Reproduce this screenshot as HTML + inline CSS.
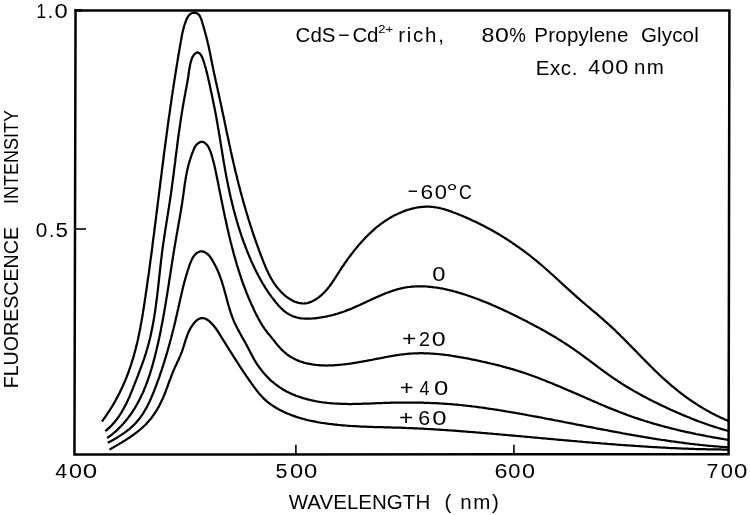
<!DOCTYPE html>
<html><head><meta charset="utf-8"><style>
html,body{margin:0;padding:0;background:#fff;}
svg{display:block;}
text{font-family:"Liberation Sans",Arial,sans-serif;fill:#000;}
</style></head><body>
<svg width="750" height="515" viewBox="0 0 750 515">
<rect width="750" height="515" fill="#fff"/>
<g fill="none" stroke="#000" stroke-linejoin="miter" stroke-linecap="square">
<path d="M75.55,10.6 L729.4,10.6 L728.6,454.2 L74.45,454.6 Z" stroke-width="2.5"/>
</g>
<g fill="none" stroke="#000" stroke-linecap="butt">
<path d="M75,229 L86,229" stroke-width="1.6"/>
<path d="M74.5,10.3 L82,10.3" stroke-width="2.4"/>
<path d="M295.9,454 L295.9,444.8" stroke-width="1.6"/>
<path d="M513.9,454 L513.9,444.8" stroke-width="1.6"/>
</g>
<g fill="none" stroke="#000" stroke-width="2.25" stroke-linejoin="round" stroke-linecap="butt">
<path d="M101.9,421.5 L102.8,420.3 L103.6,419.1 L104.5,417.9 L105.4,416.7 L106.3,415.4 L107.1,414.2 L107.9,413.0 L108.8,411.7 L109.6,410.5 L110.4,409.2 L111.2,407.9 L112.0,406.7 L112.7,405.4 L113.5,404.1 L114.2,402.8 L115.0,401.5 L115.7,400.2 L116.4,398.9 L117.1,397.5 L117.8,396.2 L118.5,394.9 L119.2,393.5 L119.9,392.2 L120.5,390.8 L121.2,389.5 L121.8,388.1 L122.5,386.8 L123.1,385.4 L123.7,384.0 L124.3,382.6 L124.9,381.3 L125.5,379.9 L126.0,378.5 L126.6,377.1 L127.1,375.7 L127.7,374.3 L128.2,372.9 L128.7,371.5 L129.2,370.0 L129.7,368.6 L130.2,367.2 L130.7,365.8 L131.2,364.3 L131.6,362.9 L132.1,361.5 L132.5,360.0 L133.0,358.6 L133.4,357.2 L133.8,355.7 L134.2,354.3 L134.6,352.8 L135.0,351.4 L135.4,349.9 L135.8,348.5 L136.1,347.0 L136.5,345.6 L136.8,344.1 L137.2,342.7 L137.5,341.2 L137.9,339.7 L138.2,338.3 L138.5,336.8 L138.8,335.3 L139.1,333.9 L139.4,332.4 L139.7,330.9 L140.0,329.5 L140.3,328.0 L140.5,326.5 L140.8,325.0 L141.1,323.6 L141.4,322.1 L141.6,320.6 L141.9,319.1 L142.1,317.6 L142.4,316.2 L142.6,314.7 L142.9,313.2 L143.1,311.7 L143.3,310.2 L143.6,308.8 L143.8,307.3 L144.0,305.8 L144.3,304.3 L144.5,302.8 L144.7,301.3 L144.9,299.8 L145.1,298.4 L145.4,296.9 L145.6,295.4 L145.8,293.9 L146.0,292.4 L146.2,290.9 L146.5,289.5 L146.7,288.0 L146.9,286.5 L147.1,285.0 L147.3,283.5 L147.5,282.0 L147.7,280.5 L147.9,279.1 L148.1,277.6 L148.4,276.1 L148.6,274.6 L148.8,273.1 L149.0,271.6 L149.2,270.1 L149.4,268.7 L149.6,267.2 L149.8,265.7 L150.0,264.2 L150.2,262.7 L150.4,261.2 L150.6,259.7 L150.8,258.2 L151.0,256.8 L151.2,255.3 L151.4,253.8 L151.6,252.3 L151.8,250.8 L152.0,249.3 L152.2,247.8 L152.4,246.4 L152.5,244.9 L152.7,243.4 L152.9,241.9 L153.1,240.4 L153.3,238.9 L153.5,237.4 L153.7,235.9 L153.9,234.5 L154.1,233.0 L154.3,231.5 L154.5,230.0 L154.6,228.5 L154.8,227.0 L155.0,225.5 L155.2,224.0 L155.4,222.6 L155.6,221.1 L155.8,219.6 L156.0,218.1 L156.1,216.6 L156.3,215.1 L156.5,213.6 L156.7,212.1 L156.9,210.6 L157.1,209.2 L157.3,207.7 L157.5,206.2 L157.6,204.7 L157.8,203.2 L158.0,201.7 L158.2,200.2 L158.4,198.7 L158.6,197.2 L158.8,195.8 L158.9,194.3 L159.1,192.8 L159.3,191.3 L159.5,189.8 L159.7,188.3 L159.9,186.8 L160.1,185.3 L160.2,183.8 L160.4,182.3 L160.6,180.9 L160.8,179.4 L161.0,177.9 L161.2,176.4 L161.4,174.9 L161.6,173.4 L161.7,171.9 L161.9,170.4 L162.1,168.9 L162.3,167.4 L162.5,166.0 L162.7,164.5 L162.9,163.0 L163.1,161.5 L163.3,160.0 L163.5,158.5 L163.6,157.0 L163.8,155.5 L164.0,154.0 L164.2,152.5 L164.4,151.0 L164.6,149.6 L164.8,148.1 L165.0,146.6 L165.2,145.1 L165.4,143.6 L165.6,142.1 L165.8,140.6 L166.0,139.1 L166.2,137.6 L166.4,136.1 L166.6,134.6 L166.8,133.1 L167.0,131.7 L167.2,130.2 L167.4,128.7 L167.6,127.2 L167.8,125.7 L168.0,124.2 L168.2,122.7 L168.4,121.2 L168.6,119.7 L168.8,118.2 L169.0,116.8 L169.3,115.3 L169.5,113.8 L169.7,112.3 L169.9,110.8 L170.1,109.3 L170.3,107.8 L170.5,106.3 L170.7,104.8 L171.0,103.4 L171.2,101.9 L171.4,100.4 L171.6,98.9 L171.8,97.4 L172.0,95.9 L172.3,94.4 L172.5,93.0 L172.7,91.5 L172.9,90.0 L173.2,88.5 L173.4,87.0 L173.6,85.6 L173.8,84.1 L174.1,82.6 L174.3,81.1 L174.5,79.6 L174.8,78.2 L175.0,76.7 L175.2,75.2 L175.5,73.7 L175.7,72.2 L175.9,70.8 L176.2,69.3 L176.4,67.8 L176.6,66.3 L176.9,64.9 L177.1,63.4 L177.4,61.9 L177.6,60.5 L177.8,59.0 L178.1,57.5 L178.3,56.0 L178.6,54.6 L178.8,53.1 L179.1,51.6 L179.3,50.2 L179.6,48.7 L179.8,47.3 L180.1,45.8 L180.3,44.3 L180.6,42.9 L180.8,41.4 L181.1,39.9 L181.4,38.5 L181.6,37.0 L181.9,35.6 L182.2,34.1 L182.5,32.6 L182.8,31.1 L183.2,29.6 L183.6,28.1 L184.0,26.5 L184.5,25.0 L185.0,23.4 L185.6,21.8 L186.2,20.1 L186.9,18.6 L187.7,17.1 L188.5,15.8 L189.5,14.7 L190.6,13.8 L191.8,13.2 L193.0,12.8 L194.3,12.7 L195.6,12.8 L196.8,13.2 L197.9,13.9 L198.9,14.8 L199.8,16.0 L200.5,17.4 L201.2,19.0 L201.7,20.6 L202.2,22.3 L202.7,24.0 L203.2,25.6 L203.7,27.2 L204.1,28.7 L204.5,30.2 L204.9,31.7 L205.3,33.2 L205.7,34.6 L206.1,36.0 L206.5,37.5 L206.8,38.9 L207.2,40.3 L207.5,41.6 L207.8,43.0 L208.2,44.4 L208.5,45.8 L208.8,47.2 L209.1,48.7 L209.4,50.1 L209.7,51.5 L210.0,53.0 L210.3,54.5 L210.6,56.0 L210.9,57.5 L211.2,59.0 L211.5,60.5 L211.8,62.0 L212.1,63.5 L212.4,64.9 L212.7,66.4 L213.0,67.9 L213.3,69.4 L213.6,70.9 L213.9,72.4 L214.2,73.8 L214.6,75.3 L214.9,76.8 L215.2,78.3 L215.5,79.7 L215.8,81.2 L216.2,82.7 L216.5,84.1 L216.8,85.6 L217.1,87.0 L217.5,88.5 L217.8,90.0 L218.1,91.4 L218.4,92.9 L218.8,94.4 L219.1,95.8 L219.4,97.3 L219.7,98.7 L220.0,100.2 L220.3,101.7 L220.7,103.1 L221.0,104.6 L221.3,106.1 L221.6,107.5 L221.9,109.0 L222.2,110.5 L222.5,111.9 L222.8,113.4 L223.1,114.9 L223.5,116.3 L223.8,117.8 L224.1,119.3 L224.4,120.7 L224.7,122.2 L225.0,123.7 L225.3,125.1 L225.6,126.6 L225.9,128.1 L226.2,129.5 L226.5,131.0 L226.8,132.5 L227.1,133.9 L227.5,135.4 L227.8,136.9 L228.1,138.3 L228.4,139.8 L228.7,141.3 L229.0,142.7 L229.3,144.2 L229.7,145.7 L230.0,147.1 L230.3,148.6 L230.6,150.1 L230.9,151.5 L231.3,153.0 L231.6,154.5 L231.9,155.9 L232.2,157.4 L232.6,158.9 L232.9,160.3 L233.2,161.8 L233.6,163.3 L233.9,164.7 L234.3,166.2 L234.6,167.6 L234.9,169.1 L235.3,170.6 L235.6,172.0 L236.0,173.5 L236.4,174.9 L236.7,176.4 L237.1,177.9 L237.4,179.3 L237.8,180.8 L238.2,182.2 L238.5,183.7 L238.9,185.2 L239.3,186.6 L239.7,188.1 L240.1,189.5 L240.4,191.0 L240.8,192.4 L241.2,193.9 L241.6,195.3 L242.0,196.8 L242.4,198.2 L242.8,199.7 L243.2,201.1 L243.6,202.6 L244.0,204.0 L244.4,205.5 L244.9,206.9 L245.3,208.3 L245.7,209.8 L246.1,211.2 L246.5,212.7 L247.0,214.1 L247.4,215.5 L247.8,217.0 L248.3,218.4 L248.7,219.8 L249.2,221.3 L249.6,222.7 L250.1,224.1 L250.5,225.6 L251.0,227.0 L251.5,228.4 L251.9,229.8 L252.4,231.3 L252.9,232.7 L253.3,234.1 L253.8,235.5 L254.3,237.0 L254.8,238.4 L255.3,239.8 L255.8,241.2 L256.3,242.6 L256.8,244.0 L257.3,245.4 L257.8,246.8 L258.3,248.2 L258.8,249.6 L259.3,251.1 L259.9,252.5 L260.4,253.9 L260.9,255.3 L261.5,256.6 L262.0,258.0 L262.5,259.4 L263.1,260.8 L263.6,262.2 L264.2,263.6 L264.8,265.0 L265.3,266.4 L265.9,267.7 L266.5,269.1 L267.1,270.5 L267.8,271.8 L268.4,273.2 L269.1,274.5 L269.7,275.8 L270.4,277.1 L271.2,278.5 L271.9,279.7 L272.7,281.0 L273.5,282.3 L274.3,283.5 L275.2,284.8 L276.1,286.0 L277.0,287.2 L278.0,288.4 L279.0,289.6 L280.0,290.7 L281.1,291.9 L282.2,293.0 L283.3,294.0 L284.5,295.1 L285.7,296.1 L287.0,297.1 L288.2,298.0 L289.5,298.8 L290.8,299.6 L292.2,300.4 L293.5,301.1 L294.9,301.7 L296.3,302.2 L297.7,302.6 L299.0,303.0 L300.4,303.2 L301.9,303.4 L303.3,303.5 L304.7,303.4 L306.1,303.3 L307.5,303.0 L308.8,302.6 L310.2,302.2 L311.6,301.6 L312.9,301.0 L314.2,300.3 L315.5,299.5 L316.8,298.7 L318.1,297.8 L319.3,296.9 L320.5,295.9 L321.7,294.9 L322.8,293.8 L323.9,292.7 L325.0,291.6 L326.0,290.5 L327.0,289.4 L327.9,288.2 L328.8,287.1 L329.8,285.9 L330.6,284.7 L331.5,283.5 L332.3,282.3 L333.2,281.0 L334.0,279.8 L334.8,278.5 L335.6,277.3 L336.4,276.0 L337.2,274.8 L338.0,273.5 L338.8,272.3 L339.6,271.0 L340.4,269.8 L341.2,268.5 L342.1,267.2 L342.9,266.0 L343.8,264.8 L344.6,263.5 L345.5,262.3 L346.4,261.1 L347.2,259.8 L348.1,258.6 L349.0,257.4 L349.9,256.2 L350.8,255.0 L351.7,253.8 L352.7,252.6 L353.6,251.4 L354.5,250.2 L355.5,249.1 L356.4,247.9 L357.4,246.7 L358.3,245.6 L359.3,244.4 L360.3,243.3 L361.3,242.2 L362.3,241.1 L363.3,240.0 L364.3,238.9 L365.3,237.8 L366.4,236.7 L367.4,235.7 L368.5,234.6 L369.5,233.6 L370.6,232.6 L371.7,231.6 L372.8,230.6 L373.9,229.6 L375.0,228.6 L376.2,227.6 L377.3,226.7 L378.5,225.8 L379.7,224.8 L380.9,223.9 L382.1,223.1 L383.4,222.2 L384.6,221.3 L385.9,220.5 L387.1,219.7 L388.4,218.9 L389.7,218.1 L391.1,217.3 L392.4,216.6 L393.7,215.8 L395.1,215.1 L396.4,214.5 L397.8,213.8 L399.2,213.2 L400.6,212.6 L402.0,212.0 L403.4,211.4 L404.8,210.9 L406.2,210.4 L407.6,209.9 L409.1,209.5 L410.5,209.1 L412.0,208.7 L413.4,208.3 L414.9,208.0 L416.3,207.7 L417.8,207.5 L419.3,207.2 L420.7,207.1 L422.2,206.9 L423.7,206.8 L425.2,206.7 L426.6,206.7 L428.1,206.7 L429.6,206.7 L431.1,206.8 L432.5,206.9 L434.0,207.1 L435.5,207.3 L436.9,207.5 L438.4,207.8 L439.9,208.1 L441.3,208.5 L442.8,208.8 L444.3,209.2 L445.7,209.7 L447.2,210.1 L448.6,210.6 L450.0,211.1 L451.5,211.6 L452.9,212.2 L454.3,212.7 L455.7,213.3 L457.2,213.8 L458.6,214.4 L460.0,215.0 L461.4,215.5 L462.8,216.1 L464.2,216.7 L465.5,217.3 L466.9,217.9 L468.3,218.5 L469.7,219.1 L471.0,219.7 L472.4,220.4 L473.7,221.0 L475.1,221.6 L476.4,222.3 L477.8,222.9 L479.1,223.6 L480.5,224.2 L481.8,224.9 L483.1,225.6 L484.4,226.3 L485.8,227.0 L487.1,227.7 L488.4,228.4 L489.7,229.1 L491.0,229.8 L492.3,230.5 L493.6,231.3 L494.9,232.0 L496.2,232.8 L497.5,233.5 L498.8,234.3 L500.1,235.1 L501.3,235.8 L502.6,236.6 L503.9,237.4 L505.2,238.2 L506.4,239.0 L507.7,239.8 L509.0,240.7 L510.2,241.5 L511.5,242.3 L512.7,243.2 L514.0,244.0 L515.2,244.9 L516.4,245.7 L517.7,246.6 L518.9,247.4 L520.1,248.3 L521.3,249.2 L522.6,250.1 L523.8,251.0 L525.0,251.9 L526.2,252.8 L527.4,253.7 L528.6,254.6 L529.8,255.5 L531.0,256.5 L532.1,257.4 L533.3,258.3 L534.5,259.3 L535.7,260.2 L536.8,261.2 L538.0,262.1 L539.1,263.1 L540.3,264.1 L541.4,265.0 L542.6,266.0 L543.7,267.0 L544.8,268.0 L546.0,269.0 L547.1,270.0 L548.2,271.0 L549.3,272.0 L550.4,273.0 L551.6,274.0 L552.7,275.0 L553.8,276.0 L554.9,277.0 L556.0,278.0 L557.1,279.0 L558.2,280.0 L559.3,281.0 L560.4,282.1 L561.5,283.1 L562.6,284.1 L563.7,285.1 L564.8,286.1 L565.9,287.1 L567.0,288.2 L568.1,289.2 L569.2,290.2 L570.3,291.2 L571.4,292.2 L572.6,293.2 L573.7,294.2 L574.8,295.2 L575.9,296.2 L577.0,297.2 L578.2,298.2 L579.3,299.1 L580.4,300.1 L581.6,301.1 L582.7,302.1 L583.9,303.0 L585.0,304.0 L586.1,305.0 L587.3,306.0 L588.4,306.9 L589.6,307.9 L590.7,308.9 L591.9,309.8 L593.0,310.8 L594.2,311.8 L595.3,312.7 L596.5,313.7 L597.6,314.7 L598.7,315.7 L599.9,316.6 L601.0,317.6 L602.2,318.6 L603.3,319.6 L604.4,320.6 L605.5,321.6 L606.7,322.6 L607.8,323.6 L608.9,324.6 L610.0,325.6 L611.1,326.6 L612.2,327.7 L613.3,328.7 L614.4,329.7 L615.5,330.7 L616.5,331.8 L617.6,332.8 L618.7,333.9 L619.8,334.9 L620.8,336.0 L621.9,337.0 L623.0,338.1 L624.0,339.2 L625.1,340.2 L626.1,341.3 L627.2,342.4 L628.3,343.4 L629.3,344.5 L630.4,345.6 L631.4,346.6 L632.5,347.7 L633.5,348.8 L634.6,349.9 L635.6,350.9 L636.7,352.0 L637.7,353.1 L638.7,354.2 L639.8,355.2 L640.8,356.3 L641.9,357.4 L642.9,358.5 L644.0,359.5 L645.1,360.6 L646.1,361.7 L647.2,362.7 L648.2,363.8 L649.3,364.9 L650.3,365.9 L651.4,367.0 L652.5,368.0 L653.5,369.1 L654.6,370.1 L655.7,371.2 L656.8,372.2 L657.9,373.3 L658.9,374.3 L660.0,375.3 L661.1,376.3 L662.2,377.4 L663.3,378.4 L664.4,379.4 L665.6,380.4 L666.7,381.4 L667.8,382.4 L668.9,383.4 L670.1,384.3 L671.2,385.3 L672.3,386.3 L673.5,387.2 L674.6,388.2 L675.8,389.1 L677.0,390.1 L678.1,391.0 L679.3,392.0 L680.5,392.9 L681.7,393.8 L682.9,394.7 L684.1,395.6 L685.3,396.5 L686.5,397.4 L687.7,398.2 L688.9,399.1 L690.2,400.0 L691.4,400.8 L692.7,401.7 L693.9,402.5 L695.2,403.3 L696.4,404.1 L697.7,404.9 L698.9,405.7 L700.2,406.5 L701.5,407.3 L702.8,408.1 L704.1,408.9 L705.4,409.6 L706.7,410.4 L708.0,411.1 L709.3,411.8 L710.6,412.5 L711.9,413.2 L713.3,413.9 L714.6,414.6 L716.0,415.3 L717.3,415.9 L718.7,416.6 L720.0,417.2 L721.4,417.9 L722.8,418.5 L724.1,419.1 L725.5,419.7 L726.9,420.3 L728.3,420.9"/>
<path d="M105.3,431.2 L106.5,430.2 L107.6,429.2 L108.8,428.1 L109.9,427.1 L111.0,426.0 L112.0,424.9 L113.0,423.8 L114.0,422.7 L115.0,421.5 L115.9,420.4 L116.8,419.2 L117.7,418.0 L118.6,416.8 L119.4,415.5 L120.2,414.3 L121.0,413.1 L121.8,411.8 L122.5,410.5 L123.3,409.2 L124.0,407.9 L124.7,406.6 L125.4,405.3 L126.1,404.0 L126.7,402.6 L127.4,401.3 L128.0,399.9 L128.6,398.5 L129.3,397.2 L129.9,395.8 L130.4,394.4 L131.0,393.0 L131.6,391.6 L132.2,390.2 L132.7,388.8 L133.3,387.4 L133.8,386.0 L134.4,384.6 L134.9,383.2 L135.5,381.8 L136.0,380.4 L136.6,379.0 L137.1,377.6 L137.7,376.2 L138.2,374.8 L138.7,373.4 L139.3,372.0 L139.8,370.5 L140.3,369.1 L140.8,367.7 L141.4,366.3 L141.9,364.9 L142.4,363.5 L142.9,362.1 L143.4,360.7 L143.9,359.3 L144.4,357.8 L144.8,356.4 L145.3,355.0 L145.8,353.6 L146.2,352.1 L146.6,350.7 L147.1,349.3 L147.5,347.9 L147.9,346.4 L148.3,345.0 L148.7,343.5 L149.1,342.1 L149.4,340.6 L149.8,339.2 L150.1,337.7 L150.5,336.3 L150.8,334.8 L151.1,333.4 L151.4,331.9 L151.7,330.4 L152.0,329.0 L152.3,327.5 L152.6,326.0 L152.9,324.6 L153.2,323.1 L153.4,321.6 L153.7,320.1 L153.9,318.7 L154.2,317.2 L154.4,315.7 L154.6,314.2 L154.9,312.7 L155.1,311.2 L155.3,309.8 L155.5,308.3 L155.7,306.8 L155.9,305.3 L156.1,303.8 L156.3,302.3 L156.5,300.8 L156.7,299.3 L156.9,297.8 L157.1,296.3 L157.3,294.8 L157.4,293.3 L157.6,291.8 L157.8,290.3 L158.0,288.8 L158.1,287.3 L158.3,285.8 L158.5,284.3 L158.6,282.8 L158.8,281.3 L159.0,279.8 L159.1,278.3 L159.3,276.8 L159.4,275.3 L159.6,273.8 L159.8,272.3 L159.9,270.8 L160.1,269.3 L160.3,267.8 L160.4,266.3 L160.6,264.8 L160.8,263.3 L160.9,261.8 L161.1,260.3 L161.3,258.8 L161.5,257.3 L161.7,255.8 L161.8,254.3 L162.0,252.8 L162.2,251.3 L162.4,249.9 L162.6,248.4 L162.8,246.9 L163.0,245.4 L163.2,243.9 L163.4,242.4 L163.7,240.9 L163.9,239.4 L164.1,238.0 L164.3,236.5 L164.5,235.0 L164.8,233.5 L165.0,232.0 L165.2,230.5 L165.5,229.1 L165.7,227.6 L165.9,226.1 L166.2,224.6 L166.4,223.1 L166.6,221.7 L166.9,220.2 L167.1,218.7 L167.3,217.2 L167.6,215.7 L167.8,214.3 L168.1,212.8 L168.3,211.3 L168.5,209.8 L168.8,208.3 L169.0,206.9 L169.2,205.4 L169.4,203.9 L169.7,202.4 L169.9,200.9 L170.1,199.5 L170.3,198.0 L170.5,196.5 L170.8,195.0 L171.0,193.5 L171.2,192.1 L171.4,190.6 L171.6,189.1 L171.8,187.6 L172.0,186.1 L172.2,184.6 L172.4,183.2 L172.6,181.7 L172.8,180.2 L173.0,178.7 L173.2,177.2 L173.4,175.7 L173.6,174.2 L173.8,172.8 L173.9,171.3 L174.1,169.8 L174.3,168.3 L174.5,166.8 L174.7,165.3 L174.9,163.8 L175.1,162.3 L175.3,160.9 L175.4,159.4 L175.6,157.9 L175.8,156.4 L176.0,154.9 L176.2,153.4 L176.4,151.9 L176.6,150.4 L176.8,148.9 L177.0,147.5 L177.2,146.0 L177.3,144.5 L177.5,143.0 L177.7,141.5 L177.9,140.0 L178.1,138.5 L178.3,137.0 L178.5,135.5 L178.7,134.1 L178.9,132.6 L179.1,131.1 L179.4,129.6 L179.6,128.1 L179.8,126.6 L180.0,125.1 L180.2,123.6 L180.4,122.1 L180.7,120.6 L180.9,119.2 L181.1,117.7 L181.3,116.2 L181.6,114.7 L181.8,113.2 L182.0,111.7 L182.3,110.2 L182.5,108.7 L182.8,107.3 L183.0,105.8 L183.3,104.3 L183.5,102.8 L183.8,101.3 L184.1,99.8 L184.3,98.3 L184.6,96.8 L184.9,95.4 L185.2,93.9 L185.4,92.4 L185.7,90.9 L186.0,89.4 L186.3,87.9 L186.6,86.5 L186.8,85.0 L187.1,83.6 L187.4,82.1 L187.6,80.7 L187.8,79.2 L188.1,77.8 L188.3,76.4 L188.5,74.9 L188.7,73.5 L188.9,72.1 L189.1,70.7 L189.3,69.2 L189.6,67.7 L189.9,66.1 L190.2,64.5 L190.6,62.8 L191.0,61.2 L191.5,59.6 L192.1,58.0 L192.8,56.6 L193.6,55.3 L194.5,54.2 L195.5,53.3 L196.7,52.6 L197.9,52.4 L199.0,52.9 L200.1,53.9 L201.0,55.1 L201.8,56.5 L202.5,58.0 L203.0,59.5 L203.6,61.0 L204.0,62.5 L204.5,64.0 L204.9,65.5 L205.4,67.0 L205.8,68.5 L206.2,70.0 L206.5,71.4 L206.9,72.9 L207.3,74.4 L207.6,75.8 L208.0,77.2 L208.3,78.7 L208.6,80.1 L209.0,81.6 L209.3,83.0 L209.6,84.4 L209.9,85.9 L210.2,87.3 L210.5,88.8 L210.8,90.2 L211.1,91.7 L211.5,93.2 L211.8,94.6 L212.1,96.1 L212.4,97.6 L212.7,99.0 L213.0,100.5 L213.3,102.0 L213.6,103.5 L213.9,104.9 L214.2,106.4 L214.5,107.9 L214.8,109.4 L215.1,110.9 L215.4,112.4 L215.6,113.8 L215.9,115.3 L216.2,116.8 L216.5,118.3 L216.7,119.8 L217.0,121.3 L217.3,122.7 L217.5,124.2 L217.8,125.7 L218.0,127.2 L218.3,128.7 L218.5,130.1 L218.8,131.6 L219.0,133.1 L219.3,134.6 L219.5,136.1 L219.8,137.5 L220.0,139.0 L220.3,140.5 L220.5,142.0 L220.7,143.4 L221.0,144.9 L221.2,146.4 L221.4,147.9 L221.7,149.4 L221.9,150.8 L222.2,152.3 L222.4,153.8 L222.6,155.3 L222.9,156.7 L223.1,158.2 L223.4,159.7 L223.6,161.2 L223.9,162.6 L224.1,164.1 L224.4,165.6 L224.6,167.1 L224.9,168.5 L225.2,170.0 L225.4,171.5 L225.7,173.0 L226.0,174.4 L226.2,175.9 L226.5,177.4 L226.8,178.9 L227.1,180.3 L227.4,181.8 L227.7,183.3 L228.0,184.8 L228.3,186.2 L228.6,187.7 L228.9,189.2 L229.2,190.6 L229.5,192.1 L229.8,193.6 L230.2,195.1 L230.5,196.5 L230.8,198.0 L231.2,199.5 L231.5,200.9 L231.9,202.4 L232.2,203.9 L232.6,205.3 L233.0,206.8 L233.3,208.2 L233.7,209.7 L234.1,211.2 L234.5,212.6 L234.9,214.1 L235.3,215.5 L235.7,217.0 L236.1,218.4 L236.5,219.9 L236.9,221.3 L237.4,222.8 L237.8,224.2 L238.2,225.6 L238.7,227.1 L239.1,228.5 L239.6,229.9 L240.0,231.4 L240.5,232.8 L241.0,234.2 L241.4,235.6 L241.9,237.1 L242.4,238.5 L242.9,239.9 L243.4,241.3 L243.9,242.7 L244.5,244.1 L245.0,245.5 L245.5,246.9 L246.0,248.3 L246.6,249.7 L247.1,251.1 L247.7,252.5 L248.3,253.9 L248.8,255.2 L249.4,256.6 L250.0,258.0 L250.6,259.4 L251.2,260.7 L251.8,262.1 L252.4,263.4 L253.0,264.8 L253.7,266.1 L254.3,267.5 L254.9,268.8 L255.6,270.2 L256.2,271.5 L256.9,272.8 L257.6,274.1 L258.3,275.5 L259.0,276.8 L259.7,278.1 L260.4,279.4 L261.1,280.7 L261.9,282.0 L262.6,283.3 L263.4,284.5 L264.2,285.8 L264.9,287.1 L265.7,288.4 L266.6,289.6 L267.4,290.9 L268.2,292.1 L269.1,293.4 L270.0,294.6 L270.8,295.9 L271.7,297.1 L272.7,298.3 L273.6,299.5 L274.6,300.8 L275.5,302.0 L276.5,303.2 L277.5,304.3 L278.5,305.5 L279.6,306.7 L280.7,307.8 L281.8,308.9 L282.9,309.9 L284.0,310.9 L285.2,311.8 L286.4,312.7 L287.6,313.6 L288.9,314.3 L290.2,315.0 L291.5,315.6 L292.8,316.2 L294.2,316.7 L295.6,317.1 L297.0,317.5 L298.5,317.8 L299.9,318.1 L301.4,318.3 L302.9,318.5 L304.4,318.6 L305.9,318.6 L307.4,318.7 L309.0,318.7 L310.5,318.6 L312.0,318.5 L313.6,318.4 L315.1,318.3 L316.6,318.1 L318.1,317.9 L319.6,317.7 L321.2,317.5 L322.6,317.2 L324.1,317.0 L325.6,316.7 L327.1,316.4 L328.5,316.0 L330.0,315.7 L331.4,315.4 L332.8,315.0 L334.2,314.6 L335.7,314.2 L337.1,313.8 L338.5,313.3 L339.9,312.9 L341.3,312.4 L342.7,312.0 L344.1,311.5 L345.4,311.0 L346.8,310.4 L348.2,309.9 L349.6,309.4 L351.0,308.8 L352.4,308.2 L353.7,307.6 L355.1,307.0 L356.5,306.4 L357.9,305.8 L359.3,305.2 L360.6,304.5 L362.0,303.9 L363.4,303.3 L364.8,302.6 L366.2,302.0 L367.6,301.3 L368.9,300.7 L370.3,300.0 L371.7,299.4 L373.1,298.7 L374.5,298.1 L375.9,297.5 L377.3,296.9 L378.7,296.2 L380.1,295.6 L381.5,295.0 L382.9,294.4 L384.3,293.9 L385.7,293.3 L387.1,292.8 L388.5,292.2 L389.9,291.7 L391.4,291.2 L392.8,290.7 L394.2,290.3 L395.6,289.9 L397.1,289.4 L398.5,289.0 L399.9,288.7 L401.4,288.3 L402.8,288.0 L404.3,287.7 L405.7,287.5 L407.2,287.2 L408.7,287.0 L410.1,286.9 L411.6,286.7 L413.1,286.6 L414.5,286.5 L416.0,286.4 L417.5,286.3 L419.0,286.3 L420.5,286.3 L421.9,286.3 L423.4,286.4 L424.9,286.4 L426.4,286.5 L427.9,286.6 L429.4,286.8 L430.9,286.9 L432.4,287.1 L433.9,287.3 L435.3,287.5 L436.8,287.7 L438.3,287.9 L439.8,288.2 L441.3,288.4 L442.8,288.7 L444.3,289.0 L445.7,289.3 L447.2,289.7 L448.7,290.0 L450.2,290.4 L451.7,290.7 L453.1,291.1 L454.6,291.5 L456.1,291.9 L457.5,292.3 L459.0,292.8 L460.4,293.2 L461.9,293.6 L463.3,294.1 L464.8,294.5 L466.2,295.0 L467.6,295.5 L469.1,296.0 L470.5,296.5 L471.9,297.0 L473.3,297.5 L474.7,298.0 L476.1,298.5 L477.5,299.0 L478.9,299.5 L480.3,300.1 L481.7,300.6 L483.1,301.2 L484.5,301.7 L485.9,302.3 L487.3,302.9 L488.6,303.4 L490.0,304.0 L491.4,304.6 L492.8,305.2 L494.1,305.8 L495.5,306.4 L496.9,307.0 L498.2,307.6 L499.6,308.2 L500.9,308.8 L502.3,309.4 L503.6,310.1 L505.0,310.7 L506.3,311.3 L507.7,312.0 L509.0,312.6 L510.4,313.3 L511.7,313.9 L513.1,314.6 L514.4,315.2 L515.7,315.9 L517.1,316.5 L518.4,317.2 L519.8,317.9 L521.1,318.6 L522.4,319.2 L523.8,319.9 L525.1,320.6 L526.5,321.3 L527.8,322.0 L529.1,322.7 L530.5,323.4 L531.8,324.0 L533.1,324.8 L534.4,325.5 L535.8,326.2 L537.1,326.9 L538.4,327.6 L539.7,328.3 L541.1,329.0 L542.4,329.8 L543.7,330.5 L545.0,331.2 L546.3,332.0 L547.6,332.7 L548.9,333.5 L550.2,334.2 L551.5,335.0 L552.8,335.8 L554.1,336.5 L555.4,337.3 L556.7,338.1 L558.0,338.9 L559.2,339.7 L560.5,340.5 L561.8,341.3 L563.0,342.1 L564.3,342.9 L565.6,343.7 L566.8,344.5 L568.1,345.3 L569.3,346.2 L570.6,347.0 L571.8,347.9 L573.1,348.7 L574.3,349.6 L575.5,350.4 L576.7,351.3 L578.0,352.2 L579.2,353.0 L580.4,353.9 L581.6,354.8 L582.8,355.7 L584.0,356.6 L585.2,357.5 L586.4,358.4 L587.6,359.2 L588.8,360.1 L590.0,361.0 L591.2,361.9 L592.4,362.8 L593.6,363.7 L594.8,364.6 L596.0,365.5 L597.2,366.4 L598.4,367.3 L599.6,368.2 L600.8,369.1 L602.1,370.0 L603.3,370.9 L604.5,371.8 L605.7,372.6 L606.9,373.5 L608.1,374.4 L609.3,375.3 L610.6,376.1 L611.8,377.0 L613.0,377.8 L614.2,378.7 L615.5,379.5 L616.7,380.3 L618.0,381.2 L619.2,382.0 L620.5,382.8 L621.7,383.6 L623.0,384.4 L624.3,385.2 L625.5,386.0 L626.8,386.8 L628.1,387.6 L629.4,388.3 L630.7,389.1 L632.0,389.8 L633.3,390.6 L634.6,391.4 L635.9,392.1 L637.2,392.8 L638.5,393.6 L639.8,394.3 L641.1,395.0 L642.4,395.7 L643.7,396.4 L645.1,397.1 L646.4,397.8 L647.7,398.5 L649.1,399.2 L650.4,399.9 L651.7,400.6 L653.1,401.3 L654.4,401.9 L655.8,402.6 L657.1,403.3 L658.5,403.9 L659.8,404.6 L661.2,405.2 L662.5,405.9 L663.9,406.5 L665.2,407.1 L666.6,407.8 L668.0,408.4 L669.3,409.0 L670.7,409.7 L672.1,410.3 L673.4,410.9 L674.8,411.5 L676.2,412.1 L677.5,412.7 L678.9,413.3 L680.3,413.9 L681.7,414.5 L683.1,415.1 L684.4,415.6 L685.8,416.2 L687.2,416.8 L688.6,417.3 L690.0,417.9 L691.4,418.5 L692.8,419.0 L694.1,419.6 L695.5,420.1 L696.9,420.6 L698.3,421.2 L699.7,421.7 L701.1,422.2 L702.6,422.7 L704.0,423.2 L705.4,423.7 L706.8,424.2 L708.2,424.7 L709.6,425.2 L711.0,425.7 L712.5,426.2 L713.9,426.6 L715.3,427.1 L716.8,427.5 L718.2,428.0 L719.6,428.4 L721.1,428.9 L722.5,429.3 L723.9,429.7 L725.4,430.1 L726.8,430.5 L728.3,430.9"/>
<path d="M107.2,438.0 L108.4,437.1 L109.7,436.2 L110.9,435.3 L112.1,434.3 L113.3,433.3 L114.5,432.3 L115.7,431.3 L116.8,430.3 L117.9,429.2 L119.0,428.2 L120.0,427.1 L121.1,426.0 L122.1,425.0 L123.1,423.9 L124.1,422.7 L125.1,421.6 L126.0,420.5 L127.0,419.3 L127.9,418.1 L128.8,416.9 L129.7,415.8 L130.5,414.6 L131.4,413.3 L132.2,412.1 L133.0,410.9 L133.8,409.6 L134.6,408.4 L135.4,407.1 L136.1,405.8 L136.9,404.5 L137.6,403.2 L138.3,401.9 L139.0,400.6 L139.7,399.3 L140.3,398.0 L141.0,396.6 L141.6,395.3 L142.3,393.9 L142.9,392.6 L143.5,391.2 L144.1,389.8 L144.6,388.4 L145.2,387.1 L145.7,385.7 L146.3,384.3 L146.8,382.9 L147.3,381.5 L147.9,380.0 L148.3,378.6 L148.8,377.2 L149.3,375.8 L149.8,374.3 L150.2,372.9 L150.7,371.4 L151.1,370.0 L151.6,368.5 L152.0,367.1 L152.4,365.6 L152.8,364.2 L153.2,362.7 L153.6,361.3 L154.0,359.8 L154.4,358.3 L154.8,356.9 L155.2,355.4 L155.5,353.9 L155.9,352.4 L156.2,351.0 L156.6,349.5 L156.9,348.0 L157.3,346.6 L157.6,345.1 L158.0,343.6 L158.3,342.1 L158.6,340.7 L158.9,339.2 L159.2,337.7 L159.6,336.3 L159.9,334.8 L160.2,333.3 L160.5,331.8 L160.8,330.4 L161.0,328.9 L161.3,327.4 L161.6,326.0 L161.9,324.5 L162.2,323.0 L162.5,321.5 L162.7,320.1 L163.0,318.6 L163.3,317.1 L163.5,315.6 L163.8,314.2 L164.1,312.7 L164.3,311.2 L164.6,309.8 L164.8,308.3 L165.1,306.8 L165.3,305.3 L165.6,303.9 L165.8,302.4 L166.1,300.9 L166.3,299.4 L166.5,298.0 L166.8,296.5 L167.0,295.0 L167.3,293.5 L167.5,292.1 L167.7,290.6 L168.0,289.1 L168.2,287.6 L168.4,286.2 L168.7,284.7 L168.9,283.2 L169.1,281.7 L169.3,280.3 L169.6,278.8 L169.8,277.3 L170.0,275.8 L170.3,274.4 L170.5,272.9 L170.7,271.4 L170.9,269.9 L171.2,268.5 L171.4,267.0 L171.6,265.5 L171.9,264.0 L172.1,262.5 L172.3,261.1 L172.6,259.6 L172.8,258.1 L173.0,256.6 L173.3,255.2 L173.5,253.7 L173.7,252.2 L174.0,250.7 L174.2,249.2 L174.5,247.8 L174.7,246.3 L175.0,244.8 L175.2,243.3 L175.5,241.9 L175.7,240.4 L176.0,238.9 L176.2,237.4 L176.5,235.9 L176.7,234.5 L177.0,233.0 L177.3,231.5 L177.5,230.0 L177.8,228.5 L178.1,227.1 L178.3,225.6 L178.6,224.1 L178.8,222.6 L179.1,221.1 L179.4,219.7 L179.6,218.2 L179.9,216.7 L180.1,215.2 L180.4,213.7 L180.6,212.2 L180.9,210.7 L181.1,209.3 L181.4,207.8 L181.6,206.3 L181.9,204.8 L182.1,203.3 L182.3,201.8 L182.5,200.3 L182.7,198.8 L183.0,197.4 L183.2,195.9 L183.4,194.4 L183.6,192.9 L183.8,191.4 L184.0,189.9 L184.2,188.4 L184.4,186.9 L184.6,185.4 L184.8,184.0 L185.0,182.5 L185.3,181.0 L185.5,179.5 L185.8,178.1 L186.0,176.6 L186.3,175.1 L186.6,173.7 L186.8,172.2 L187.1,170.8 L187.5,169.3 L187.8,167.9 L188.1,166.4 L188.5,165.0 L188.9,163.6 L189.3,162.1 L189.7,160.7 L190.2,159.3 L190.6,157.9 L191.1,156.5 L191.6,155.0 L192.1,153.6 L192.7,152.1 L193.3,150.6 L193.9,149.1 L194.6,147.6 L195.4,146.2 L196.3,144.9 L197.4,143.8 L198.6,142.9 L199.9,142.2 L201.3,141.8 L202.6,141.9 L203.9,142.3 L205.1,143.1 L206.2,144.1 L207.2,145.2 L208.1,146.5 L208.9,147.9 L209.5,149.3 L210.1,150.7 L210.7,152.2 L211.2,153.7 L211.7,155.2 L212.1,156.7 L212.5,158.2 L212.9,159.7 L213.3,161.1 L213.7,162.6 L214.1,164.1 L214.4,165.5 L214.8,167.0 L215.1,168.5 L215.4,169.9 L215.7,171.4 L216.0,172.8 L216.3,174.3 L216.6,175.8 L216.9,177.2 L217.2,178.7 L217.5,180.1 L217.8,181.6 L218.1,183.0 L218.4,184.5 L218.7,186.0 L218.9,187.4 L219.2,188.9 L219.5,190.4 L219.8,191.8 L220.1,193.3 L220.4,194.8 L220.7,196.2 L221.0,197.7 L221.3,199.2 L221.6,200.6 L221.9,202.1 L222.2,203.6 L222.5,205.0 L222.8,206.5 L223.1,208.0 L223.4,209.4 L223.7,210.9 L224.0,212.4 L224.3,213.8 L224.6,215.3 L224.9,216.8 L225.3,218.2 L225.6,219.7 L225.9,221.2 L226.2,222.6 L226.5,224.1 L226.9,225.6 L227.2,227.0 L227.5,228.5 L227.9,230.0 L228.2,231.4 L228.5,232.9 L228.9,234.4 L229.2,235.8 L229.6,237.3 L229.9,238.7 L230.3,240.2 L230.6,241.7 L231.0,243.1 L231.4,244.6 L231.7,246.0 L232.1,247.5 L232.5,248.9 L232.9,250.4 L233.3,251.8 L233.6,253.3 L234.0,254.7 L234.4,256.2 L234.9,257.6 L235.3,259.1 L235.7,260.5 L236.1,262.0 L236.5,263.4 L236.9,264.8 L237.4,266.3 L237.8,267.7 L238.3,269.1 L238.7,270.6 L239.2,272.0 L239.6,273.4 L240.1,274.9 L240.6,276.3 L241.1,277.7 L241.5,279.1 L242.0,280.5 L242.5,282.0 L243.0,283.4 L243.5,284.8 L244.1,286.2 L244.6,287.6 L245.1,289.0 L245.7,290.4 L246.2,291.8 L246.7,293.2 L247.3,294.6 L247.9,296.0 L248.4,297.4 L249.0,298.7 L249.6,300.1 L250.2,301.5 L250.8,302.9 L251.4,304.2 L252.0,305.6 L252.7,307.0 L253.3,308.3 L253.9,309.7 L254.6,311.1 L255.2,312.4 L255.9,313.8 L256.6,315.1 L257.3,316.4 L258.0,317.8 L258.7,319.1 L259.4,320.4 L260.1,321.7 L260.9,323.0 L261.6,324.2 L262.4,325.5 L263.2,326.7 L264.0,327.9 L264.8,329.1 L265.7,330.3 L266.6,331.5 L267.4,332.6 L268.3,333.7 L269.3,334.8 L270.2,335.9 L271.1,337.1 L272.1,338.2 L273.0,339.4 L274.0,340.6 L275.0,341.8 L275.9,343.1 L276.9,344.3 L277.9,345.5 L279.0,346.7 L280.0,347.8 L281.1,349.0 L282.2,350.1 L283.3,351.2 L284.4,352.2 L285.6,353.2 L286.7,354.1 L287.9,355.0 L289.2,355.9 L290.4,356.7 L291.7,357.4 L292.9,358.1 L294.2,358.8 L295.6,359.5 L296.9,360.1 L298.2,360.6 L299.6,361.2 L301.0,361.7 L302.4,362.1 L303.8,362.6 L305.2,363.0 L306.6,363.3 L308.1,363.6 L309.5,363.9 L311.0,364.2 L312.4,364.5 L313.9,364.7 L315.4,364.9 L316.9,365.0 L318.4,365.1 L319.9,365.3 L321.4,365.3 L322.9,365.4 L324.5,365.4 L326.0,365.5 L327.5,365.5 L329.0,365.4 L330.6,365.4 L332.1,365.3 L333.6,365.3 L335.1,365.2 L336.7,365.1 L338.2,364.9 L339.7,364.8 L341.2,364.7 L342.7,364.5 L344.2,364.3 L345.7,364.2 L347.2,364.0 L348.7,363.8 L350.2,363.6 L351.7,363.4 L353.1,363.1 L354.6,362.9 L356.1,362.7 L357.5,362.4 L359.0,362.2 L360.4,361.9 L361.9,361.7 L363.3,361.4 L364.8,361.1 L366.2,360.9 L367.7,360.6 L369.1,360.3 L370.6,360.0 L372.0,359.8 L373.5,359.5 L374.9,359.2 L376.4,358.9 L377.8,358.6 L379.3,358.3 L380.7,358.1 L382.2,357.8 L383.7,357.5 L385.1,357.2 L386.6,357.0 L388.1,356.7 L389.5,356.4 L391.0,356.2 L392.5,355.9 L394.0,355.7 L395.5,355.4 L397.0,355.2 L398.5,355.0 L400.0,354.7 L401.5,354.5 L403.0,354.3 L404.5,354.2 L406.0,354.0 L407.5,353.8 L409.1,353.7 L410.6,353.6 L412.1,353.5 L413.6,353.4 L415.1,353.3 L416.6,353.3 L418.1,353.3 L419.6,353.2 L421.1,353.2 L422.6,353.2 L424.1,353.3 L425.6,353.3 L427.1,353.3 L428.6,353.4 L430.0,353.5 L431.5,353.6 L433.0,353.7 L434.5,353.8 L436.0,353.9 L437.5,354.0 L439.0,354.2 L440.5,354.3 L442.0,354.5 L443.4,354.6 L444.9,354.8 L446.4,355.0 L447.9,355.2 L449.4,355.4 L450.9,355.6 L452.3,355.9 L453.8,356.1 L455.3,356.3 L456.8,356.6 L458.2,356.8 L459.7,357.1 L461.2,357.3 L462.7,357.6 L464.2,357.9 L465.6,358.2 L467.1,358.4 L468.6,358.7 L470.1,359.0 L471.5,359.3 L473.0,359.6 L474.5,359.9 L475.9,360.2 L477.4,360.5 L478.9,360.8 L480.4,361.1 L481.8,361.5 L483.3,361.8 L484.8,362.1 L486.2,362.4 L487.7,362.8 L489.2,363.1 L490.6,363.5 L492.1,363.8 L493.5,364.2 L495.0,364.5 L496.5,364.9 L497.9,365.2 L499.4,365.6 L500.8,366.0 L502.3,366.4 L503.7,366.8 L505.2,367.2 L506.6,367.6 L508.1,368.0 L509.5,368.4 L510.9,368.8 L512.4,369.2 L513.8,369.6 L515.3,370.1 L516.7,370.5 L518.1,371.0 L519.6,371.4 L521.0,371.9 L522.4,372.3 L523.8,372.8 L525.2,373.3 L526.7,373.8 L528.1,374.3 L529.5,374.8 L530.9,375.3 L532.3,375.8 L533.7,376.3 L535.1,376.8 L536.5,377.3 L537.9,377.8 L539.3,378.4 L540.7,378.9 L542.1,379.5 L543.5,380.0 L544.9,380.5 L546.3,381.1 L547.7,381.7 L549.1,382.2 L550.5,382.8 L551.9,383.3 L553.3,383.9 L554.6,384.5 L556.0,385.1 L557.4,385.6 L558.8,386.2 L560.2,386.8 L561.6,387.4 L562.9,388.0 L564.3,388.6 L565.7,389.2 L567.1,389.8 L568.4,390.4 L569.8,390.9 L571.2,391.5 L572.6,392.1 L574.0,392.7 L575.3,393.3 L576.7,393.9 L578.1,394.5 L579.5,395.1 L580.8,395.7 L582.2,396.3 L583.6,396.9 L585.0,397.5 L586.3,398.1 L587.7,398.7 L589.1,399.3 L590.5,399.9 L591.8,400.5 L593.2,401.1 L594.6,401.7 L596.0,402.3 L597.4,402.9 L598.7,403.5 L600.1,404.1 L601.5,404.7 L602.9,405.3 L604.3,405.8 L605.6,406.4 L607.0,407.0 L608.4,407.6 L609.8,408.1 L611.2,408.7 L612.6,409.3 L614.0,409.8 L615.4,410.4 L616.8,410.9 L618.2,411.5 L619.6,412.0 L621.0,412.6 L622.4,413.1 L623.8,413.6 L625.2,414.1 L626.6,414.7 L628.0,415.2 L629.4,415.7 L630.8,416.2 L632.2,416.7 L633.6,417.2 L635.0,417.7 L636.4,418.2 L637.9,418.6 L639.3,419.1 L640.7,419.6 L642.1,420.0 L643.6,420.5 L645.0,421.0 L646.4,421.4 L647.8,421.8 L649.3,422.3 L650.7,422.7 L652.2,423.1 L653.6,423.6 L655.0,424.0 L656.5,424.4 L657.9,424.8 L659.4,425.2 L660.8,425.6 L662.3,426.0 L663.7,426.4 L665.1,426.8 L666.6,427.2 L668.1,427.5 L669.5,427.9 L671.0,428.3 L672.4,428.7 L673.9,429.0 L675.3,429.4 L676.8,429.7 L678.2,430.1 L679.7,430.4 L681.2,430.8 L682.6,431.1 L684.1,431.4 L685.6,431.8 L687.0,432.1 L688.5,432.4 L690.0,432.7 L691.4,433.0 L692.9,433.3 L694.4,433.6 L695.8,434.0 L697.3,434.3 L698.8,434.5 L700.3,434.8 L701.7,435.1 L703.2,435.4 L704.7,435.7 L706.1,436.0 L707.6,436.3 L709.1,436.5 L710.6,436.8 L712.1,437.1 L713.5,437.3 L715.0,437.6 L716.5,437.8 L718.0,438.1 L719.4,438.4 L720.9,438.6 L722.4,438.8 L723.9,439.1 L725.4,439.3 L726.8,439.6 L728.3,439.8"/>
<path d="M107.8,442.8 L109.1,442.1 L110.4,441.4 L111.7,440.7 L113.0,440.0 L114.3,439.2 L115.6,438.5 L116.9,437.7 L118.2,436.9 L119.4,436.1 L120.7,435.3 L122.0,434.4 L123.2,433.6 L124.5,432.7 L125.7,431.8 L126.9,430.9 L128.1,430.0 L129.3,429.1 L130.4,428.1 L131.5,427.1 L132.6,426.1 L133.7,425.1 L134.8,424.0 L135.8,422.9 L136.8,421.8 L137.7,420.7 L138.7,419.5 L139.6,418.4 L140.5,417.2 L141.3,416.0 L142.2,414.8 L143.0,413.5 L143.8,412.3 L144.5,411.0 L145.3,409.7 L146.0,408.4 L146.8,407.1 L147.5,405.7 L148.1,404.4 L148.8,403.1 L149.5,401.7 L150.1,400.3 L150.7,399.0 L151.3,397.6 L151.9,396.2 L152.5,394.8 L153.1,393.4 L153.7,392.0 L154.2,390.6 L154.8,389.1 L155.3,387.7 L155.9,386.3 L156.4,384.9 L156.9,383.5 L157.4,382.1 L157.9,380.6 L158.5,379.2 L159.0,377.8 L159.5,376.4 L159.9,375.0 L160.4,373.6 L160.9,372.1 L161.4,370.7 L161.9,369.3 L162.3,367.9 L162.8,366.5 L163.3,365.0 L163.7,363.6 L164.2,362.2 L164.6,360.8 L165.0,359.3 L165.5,357.9 L165.9,356.5 L166.3,355.1 L166.8,353.6 L167.2,352.2 L167.6,350.8 L168.0,349.3 L168.4,347.9 L168.8,346.5 L169.2,345.0 L169.6,343.6 L170.0,342.2 L170.4,340.7 L170.8,339.3 L171.2,337.8 L171.5,336.4 L171.9,334.9 L172.3,333.5 L172.6,332.0 L173.0,330.6 L173.4,329.1 L173.7,327.7 L174.1,326.2 L174.5,324.8 L174.8,323.3 L175.2,321.8 L175.5,320.4 L175.8,318.9 L176.2,317.4 L176.5,315.9 L176.9,314.5 L177.2,313.0 L177.5,311.5 L177.9,310.0 L178.2,308.6 L178.5,307.1 L178.9,305.6 L179.2,304.1 L179.5,302.6 L179.8,301.1 L180.2,299.7 L180.5,298.2 L180.8,296.7 L181.2,295.2 L181.5,293.8 L181.9,292.3 L182.2,290.9 L182.5,289.4 L182.9,288.0 L183.2,286.5 L183.6,285.1 L184.0,283.7 L184.3,282.3 L184.7,280.9 L185.1,279.5 L185.5,278.1 L185.9,276.7 L186.3,275.3 L186.7,273.9 L187.2,272.4 L187.6,271.0 L188.1,269.5 L188.6,268.0 L189.1,266.5 L189.6,264.9 L190.2,263.4 L190.8,261.8 L191.5,260.3 L192.2,258.8 L193.0,257.4 L193.8,256.1 L194.8,254.9 L195.8,253.8 L197.0,252.9 L198.2,252.2 L199.4,251.7 L200.7,251.4 L202.0,251.4 L203.3,251.6 L204.6,252.1 L205.8,252.8 L207.1,253.7 L208.2,254.7 L209.3,255.8 L210.3,257.1 L211.2,258.4 L212.1,259.8 L212.9,261.2 L213.7,262.7 L214.5,264.1 L215.2,265.5 L215.9,266.8 L216.6,268.2 L217.2,269.5 L217.8,270.9 L218.4,272.2 L219.0,273.6 L219.5,275.0 L220.0,276.4 L220.5,277.8 L221.0,279.2 L221.5,280.6 L222.0,282.0 L222.4,283.5 L222.8,284.9 L223.3,286.3 L223.7,287.8 L224.1,289.2 L224.5,290.7 L224.9,292.1 L225.3,293.6 L225.7,295.0 L226.1,296.5 L226.5,297.9 L226.8,299.4 L227.2,300.8 L227.6,302.3 L228.0,303.7 L228.4,305.2 L228.9,306.6 L229.3,308.0 L229.7,309.5 L230.2,310.9 L230.6,312.3 L231.1,313.7 L231.6,315.1 L232.1,316.5 L232.6,317.9 L233.2,319.3 L233.7,320.7 L234.3,322.1 L234.9,323.4 L235.6,324.8 L236.2,326.1 L236.9,327.5 L237.6,328.8 L238.3,330.1 L239.0,331.4 L239.7,332.7 L240.4,334.0 L241.2,335.4 L241.9,336.7 L242.6,338.0 L243.4,339.3 L244.1,340.6 L244.9,341.9 L245.6,343.2 L246.3,344.5 L247.0,345.9 L247.7,347.2 L248.4,348.5 L249.1,349.9 L249.8,351.2 L250.5,352.6 L251.2,353.9 L251.9,355.2 L252.6,356.6 L253.3,357.9 L254.0,359.2 L254.8,360.5 L255.6,361.8 L256.4,363.1 L257.2,364.3 L258.0,365.6 L258.9,366.8 L259.8,368.0 L260.7,369.2 L261.6,370.4 L262.5,371.6 L263.5,372.7 L264.5,373.9 L265.5,375.0 L266.5,376.1 L267.5,377.2 L268.6,378.2 L269.6,379.3 L270.7,380.3 L271.8,381.3 L273.0,382.2 L274.1,383.2 L275.3,384.1 L276.5,385.0 L277.7,385.9 L278.9,386.8 L280.1,387.6 L281.4,388.4 L282.6,389.2 L283.9,389.9 L285.2,390.7 L286.5,391.4 L287.8,392.0 L289.1,392.7 L290.5,393.3 L291.8,394.0 L293.2,394.5 L294.6,395.1 L296.0,395.7 L297.4,396.2 L298.8,396.7 L300.2,397.2 L301.7,397.6 L303.1,398.1 L304.5,398.5 L306.0,398.9 L307.5,399.3 L308.9,399.7 L310.4,400.0 L311.9,400.4 L313.4,400.7 L314.8,401.0 L316.3,401.3 L317.8,401.5 L319.3,401.8 L320.8,402.0 L322.3,402.3 L323.8,402.5 L325.3,402.6 L326.8,402.8 L328.3,403.0 L329.9,403.1 L331.4,403.3 L332.9,403.4 L334.4,403.5 L335.9,403.6 L337.4,403.7 L338.9,403.7 L340.4,403.8 L341.9,403.8 L343.4,403.9 L344.9,403.9 L346.4,403.9 L347.9,404.0 L349.4,404.0 L350.9,404.0 L352.3,404.0 L353.8,403.9 L355.3,403.9 L356.8,403.9 L358.3,403.9 L359.8,403.8 L361.3,403.8 L362.8,403.7 L364.3,403.7 L365.8,403.6 L367.3,403.6 L368.8,403.5 L370.3,403.5 L371.8,403.4 L373.3,403.3 L374.8,403.3 L376.3,403.2 L377.8,403.2 L379.3,403.1 L380.7,403.0 L382.2,403.0 L383.7,402.9 L385.2,402.9 L386.7,402.8 L388.2,402.8 L389.7,402.8 L391.2,402.7 L392.7,402.7 L394.2,402.7 L395.7,402.6 L397.2,402.6 L398.7,402.6 L400.2,402.6 L401.7,402.5 L403.2,402.5 L404.7,402.5 L406.2,402.5 L407.7,402.5 L409.2,402.5 L410.8,402.5 L412.3,402.5 L413.8,402.6 L415.3,402.6 L416.8,402.6 L418.3,402.6 L419.8,402.7 L421.3,402.7 L422.8,402.7 L424.3,402.8 L425.8,402.8 L427.3,402.9 L428.8,402.9 L430.3,403.0 L431.8,403.0 L433.3,403.1 L434.8,403.2 L436.3,403.2 L437.8,403.3 L439.3,403.4 L440.8,403.5 L442.3,403.6 L443.8,403.7 L445.3,403.8 L446.8,403.9 L448.3,404.0 L449.8,404.1 L451.3,404.2 L452.8,404.3 L454.3,404.5 L455.8,404.6 L457.3,404.7 L458.8,404.9 L460.2,405.0 L461.7,405.2 L463.2,405.3 L464.7,405.5 L466.2,405.7 L467.7,405.8 L469.2,406.0 L470.7,406.2 L472.2,406.4 L473.7,406.5 L475.1,406.7 L476.6,406.9 L478.1,407.1 L479.6,407.3 L481.1,407.5 L482.6,407.7 L484.1,407.9 L485.6,408.1 L487.0,408.4 L488.5,408.6 L490.0,408.8 L491.5,409.0 L493.0,409.2 L494.5,409.5 L495.9,409.7 L497.4,409.9 L498.9,410.2 L500.4,410.4 L501.9,410.6 L503.3,410.9 L504.8,411.1 L506.3,411.4 L507.8,411.6 L509.3,411.9 L510.7,412.1 L512.2,412.4 L513.7,412.6 L515.2,412.9 L516.7,413.2 L518.1,413.4 L519.6,413.7 L521.1,413.9 L522.6,414.2 L524.0,414.5 L525.5,414.7 L527.0,415.0 L528.5,415.3 L529.9,415.5 L531.4,415.8 L532.9,416.1 L534.4,416.3 L535.8,416.6 L537.3,416.9 L538.8,417.2 L540.3,417.4 L541.7,417.7 L543.2,418.0 L544.7,418.3 L546.2,418.6 L547.6,418.8 L549.1,419.1 L550.6,419.4 L552.1,419.7 L553.5,420.0 L555.0,420.3 L556.5,420.5 L558.0,420.8 L559.4,421.1 L560.9,421.4 L562.4,421.7 L563.8,422.0 L565.3,422.3 L566.8,422.5 L568.3,422.8 L569.7,423.1 L571.2,423.4 L572.7,423.7 L574.2,424.0 L575.6,424.3 L577.1,424.6 L578.6,424.8 L580.0,425.1 L581.5,425.4 L583.0,425.7 L584.5,426.0 L585.9,426.3 L587.4,426.6 L588.9,426.8 L590.4,427.1 L591.8,427.4 L593.3,427.7 L594.8,428.0 L596.3,428.3 L597.7,428.6 L599.2,428.8 L600.7,429.1 L602.1,429.4 L603.6,429.7 L605.1,430.0 L606.6,430.2 L608.0,430.5 L609.5,430.8 L611.0,431.1 L612.5,431.4 L613.9,431.6 L615.4,431.9 L616.9,432.2 L618.4,432.5 L619.8,432.7 L621.3,433.0 L622.8,433.3 L624.3,433.5 L625.7,433.8 L627.2,434.1 L628.7,434.3 L630.2,434.6 L631.6,434.9 L633.1,435.1 L634.6,435.4 L636.1,435.6 L637.6,435.9 L639.0,436.2 L640.5,436.4 L642.0,436.7 L643.5,436.9 L644.9,437.2 L646.4,437.4 L647.9,437.6 L649.4,437.9 L650.9,438.1 L652.3,438.4 L653.8,438.6 L655.3,438.8 L656.8,439.1 L658.3,439.3 L659.7,439.5 L661.2,439.8 L662.7,440.0 L664.2,440.2 L665.7,440.4 L667.2,440.7 L668.6,440.9 L670.1,441.1 L671.6,441.3 L673.1,441.5 L674.6,441.7 L676.1,441.9 L677.6,442.1 L679.0,442.3 L680.5,442.5 L682.0,442.7 L683.5,442.9 L685.0,443.1 L686.5,443.3 L688.0,443.5 L689.5,443.7 L691.0,443.8 L692.4,444.0 L693.9,444.2 L695.4,444.4 L696.9,444.5 L698.4,444.7 L699.9,444.9 L701.4,445.0 L702.9,445.2 L704.4,445.3 L705.9,445.5 L707.4,445.6 L708.9,445.8 L710.4,445.9 L711.9,446.0 L713.4,446.2 L714.9,446.3 L716.4,446.4 L717.9,446.5 L719.4,446.7 L720.9,446.8 L722.4,446.9 L723.9,447.0 L725.4,447.1 L726.9,447.2 L728.4,447.3"/>
<path d="M109.5,449.6 L110.7,448.9 L112.0,448.1 L113.3,447.4 L114.6,446.6 L115.8,445.9 L117.1,445.1 L118.4,444.4 L119.7,443.6 L121.0,442.9 L122.3,442.1 L123.6,441.3 L124.9,440.5 L126.1,439.7 L127.4,438.9 L128.7,438.0 L129.9,437.2 L131.2,436.3 L132.4,435.5 L133.7,434.6 L134.9,433.7 L136.1,432.8 L137.3,431.9 L138.5,430.9 L139.6,430.0 L140.8,429.0 L141.9,428.0 L143.0,427.0 L144.1,426.0 L145.2,425.0 L146.2,423.9 L147.2,422.8 L148.2,421.7 L149.2,420.6 L150.2,419.5 L151.1,418.3 L152.0,417.1 L152.9,415.9 L153.7,414.7 L154.6,413.5 L155.4,412.2 L156.2,411.0 L157.0,409.7 L157.7,408.4 L158.5,407.1 L159.2,405.8 L159.9,404.4 L160.5,403.1 L161.2,401.8 L161.8,400.4 L162.5,399.0 L163.1,397.7 L163.7,396.3 L164.3,394.9 L164.8,393.5 L165.4,392.1 L165.9,390.7 L166.4,389.3 L167.0,387.9 L167.5,386.5 L168.0,385.1 L168.5,383.7 L169.0,382.3 L169.5,380.9 L170.0,379.5 L170.6,378.1 L171.1,376.7 L171.6,375.3 L172.2,373.9 L172.7,372.5 L173.3,371.1 L173.9,369.7 L174.5,368.4 L175.1,367.0 L175.8,365.6 L176.4,364.3 L177.0,362.9 L177.6,361.5 L178.3,360.2 L178.9,358.8 L179.5,357.4 L180.1,356.1 L180.7,354.7 L181.2,353.3 L181.8,351.9 L182.3,350.5 L182.8,349.1 L183.2,347.7 L183.7,346.3 L184.1,344.9 L184.6,343.5 L185.0,342.1 L185.4,340.6 L185.9,339.2 L186.4,337.8 L186.9,336.3 L187.4,334.9 L188.0,333.4 L188.6,332.0 L189.3,330.6 L190.0,329.1 L190.8,327.7 L191.7,326.3 L192.7,324.9 L193.7,323.6 L194.7,322.3 L195.8,321.2 L196.9,320.2 L198.1,319.4 L199.3,318.7 L200.5,318.3 L201.8,318.1 L203.0,318.1 L204.3,318.3 L205.6,318.8 L206.8,319.5 L208.1,320.3 L209.3,321.2 L210.5,322.3 L211.6,323.4 L212.7,324.6 L213.8,325.8 L214.7,327.0 L215.7,328.3 L216.6,329.5 L217.5,330.8 L218.3,332.1 L219.1,333.4 L219.9,334.7 L220.7,336.0 L221.5,337.3 L222.3,338.6 L223.1,339.9 L223.9,341.1 L224.7,342.4 L225.5,343.7 L226.3,345.0 L227.1,346.3 L227.9,347.5 L228.7,348.8 L229.5,350.1 L230.3,351.3 L231.1,352.6 L231.9,353.8 L232.7,355.1 L233.5,356.4 L234.3,357.6 L235.1,358.9 L235.9,360.1 L236.7,361.4 L237.5,362.6 L238.3,363.9 L239.1,365.1 L239.9,366.4 L240.7,367.6 L241.5,368.8 L242.4,370.1 L243.2,371.3 L244.0,372.6 L244.9,373.8 L245.7,375.0 L246.5,376.3 L247.4,377.5 L248.2,378.7 L249.1,380.0 L250.0,381.2 L250.8,382.4 L251.7,383.7 L252.6,384.9 L253.5,386.2 L254.4,387.4 L255.3,388.6 L256.2,389.8 L257.1,391.0 L258.1,392.2 L259.0,393.4 L260.0,394.5 L261.0,395.6 L262.0,396.7 L263.1,397.8 L264.1,398.9 L265.2,399.9 L266.3,400.9 L267.5,401.8 L268.7,402.8 L269.8,403.7 L271.0,404.5 L272.3,405.4 L273.5,406.2 L274.8,407.0 L276.0,407.8 L277.3,408.5 L278.6,409.3 L279.9,410.0 L281.3,410.6 L282.6,411.3 L283.9,411.9 L285.3,412.6 L286.7,413.2 L288.0,413.8 L289.4,414.3 L290.8,414.9 L292.2,415.4 L293.6,415.9 L295.0,416.4 L296.4,416.9 L297.8,417.3 L299.3,417.8 L300.7,418.2 L302.1,418.6 L303.6,419.0 L305.1,419.4 L306.5,419.8 L308.0,420.1 L309.4,420.5 L310.9,420.8 L312.4,421.1 L313.9,421.4 L315.4,421.7 L316.8,422.0 L318.3,422.3 L319.8,422.5 L321.3,422.8 L322.8,423.0 L324.3,423.2 L325.8,423.5 L327.3,423.7 L328.8,423.9 L330.3,424.0 L331.8,424.2 L333.3,424.4 L334.8,424.6 L336.3,424.7 L337.8,424.9 L339.3,425.0 L340.8,425.2 L342.3,425.3 L343.8,425.4 L345.3,425.5 L346.8,425.7 L348.3,425.8 L349.7,425.9 L351.2,426.0 L352.7,426.1 L354.2,426.2 L355.7,426.2 L357.2,426.3 L358.7,426.4 L360.2,426.5 L361.7,426.5 L363.2,426.6 L364.7,426.7 L366.2,426.7 L367.7,426.8 L369.2,426.8 L370.7,426.9 L372.2,426.9 L373.7,427.0 L375.2,427.0 L376.7,427.1 L378.2,427.1 L379.7,427.1 L381.2,427.2 L382.7,427.2 L384.2,427.3 L385.7,427.3 L387.2,427.3 L388.6,427.4 L390.1,427.4 L391.6,427.5 L393.1,427.5 L394.6,427.5 L396.1,427.6 L397.6,427.6 L399.1,427.7 L400.6,427.7 L402.1,427.8 L403.6,427.8 L405.1,427.9 L406.6,428.0 L408.1,428.0 L409.6,428.1 L411.1,428.1 L412.6,428.2 L414.1,428.3 L415.6,428.3 L417.1,428.4 L418.6,428.5 L420.1,428.6 L421.6,428.6 L423.1,428.7 L424.6,428.8 L426.1,428.9 L427.6,429.0 L429.1,429.1 L430.6,429.1 L432.1,429.2 L433.5,429.3 L435.0,429.4 L436.5,429.5 L438.0,429.6 L439.5,429.7 L441.0,429.8 L442.5,429.9 L444.0,430.0 L445.5,430.1 L447.0,430.2 L448.5,430.3 L450.0,430.4 L451.5,430.5 L453.0,430.6 L454.5,430.7 L456.0,430.8 L457.5,430.9 L459.0,431.1 L460.5,431.2 L462.0,431.3 L463.5,431.4 L465.0,431.5 L466.5,431.6 L468.0,431.8 L469.5,431.9 L471.0,432.0 L472.5,432.1 L474.0,432.2 L475.4,432.3 L476.9,432.5 L478.4,432.6 L479.9,432.7 L481.4,432.8 L482.9,433.0 L484.4,433.1 L485.9,433.2 L487.4,433.3 L488.9,433.5 L490.4,433.6 L491.9,433.7 L493.4,433.9 L494.9,434.0 L496.4,434.1 L497.9,434.2 L499.4,434.4 L500.9,434.5 L502.4,434.6 L503.9,434.8 L505.3,434.9 L506.8,435.0 L508.3,435.2 L509.8,435.3 L511.3,435.4 L512.8,435.6 L514.3,435.7 L515.8,435.8 L517.3,436.0 L518.8,436.1 L520.3,436.2 L521.8,436.4 L523.3,436.5 L524.8,436.6 L526.3,436.8 L527.8,436.9 L529.3,437.0 L530.8,437.2 L532.2,437.3 L533.7,437.5 L535.2,437.6 L536.7,437.7 L538.2,437.9 L539.7,438.0 L541.2,438.1 L542.7,438.3 L544.2,438.4 L545.7,438.5 L547.2,438.7 L548.7,438.8 L550.2,438.9 L551.7,439.1 L553.2,439.2 L554.7,439.4 L556.1,439.5 L557.6,439.6 L559.1,439.8 L560.6,439.9 L562.1,440.0 L563.6,440.2 L565.1,440.3 L566.6,440.4 L568.1,440.6 L569.6,440.7 L571.1,440.8 L572.6,441.0 L574.1,441.1 L575.6,441.2 L577.1,441.3 L578.6,441.5 L580.1,441.6 L581.5,441.7 L583.0,441.9 L584.5,442.0 L586.0,442.1 L587.5,442.3 L589.0,442.4 L590.5,442.5 L592.0,442.6 L593.5,442.8 L595.0,442.9 L596.5,443.0 L598.0,443.1 L599.5,443.2 L601.0,443.4 L602.5,443.5 L604.0,443.6 L605.5,443.7 L607.0,443.8 L608.5,444.0 L609.9,444.1 L611.4,444.2 L612.9,444.3 L614.4,444.4 L615.9,444.5 L617.4,444.7 L618.9,444.8 L620.4,444.9 L621.9,445.0 L623.4,445.1 L624.9,445.2 L626.4,445.3 L627.9,445.4 L629.4,445.5 L630.9,445.6 L632.4,445.7 L633.9,445.8 L635.4,445.9 L636.9,446.0 L638.4,446.1 L639.9,446.2 L641.4,446.3 L642.9,446.4 L644.3,446.5 L645.8,446.6 L647.3,446.7 L648.8,446.8 L650.3,446.9 L651.8,447.0 L653.3,447.1 L654.8,447.2 L656.3,447.2 L657.8,447.3 L659.3,447.4 L660.8,447.5 L662.3,447.6 L663.8,447.7 L665.3,447.7 L666.8,447.8 L668.3,447.9 L669.8,448.0 L671.3,448.0 L672.8,448.1 L674.3,448.2 L675.8,448.2 L677.3,448.3 L678.8,448.4 L680.3,448.4 L681.8,448.5 L683.3,448.5 L684.8,448.6 L686.3,448.7 L687.8,448.7 L689.3,448.8 L690.8,448.8 L692.3,448.9 L693.8,448.9 L695.3,449.0 L696.8,449.0 L698.3,449.0 L699.8,449.1 L701.3,449.1 L702.8,449.2 L704.3,449.2 L705.8,449.2 L707.3,449.3 L708.8,449.3 L710.3,449.3 L711.8,449.3 L713.3,449.4 L714.8,449.4 L716.3,449.4 L717.8,449.4 L719.3,449.4 L720.8,449.4 L722.3,449.5 L723.8,449.5 L725.3,449.5 L726.8,449.5 L728.3,449.5"/>
</g>
<g>
<text font-size="20.5"><tspan x="36.55" y="17.60" textLength="9.52" lengthAdjust="spacingAndGlyphs">1</tspan><tspan x="47.63" y="17.60" textLength="5.44" lengthAdjust="spacingAndGlyphs">.</tspan><tspan x="54.44" y="17.60" textLength="13.20" lengthAdjust="spacingAndGlyphs">0</tspan></text>
<text font-size="20.5"><tspan x="35.88" y="237.00" textLength="11.57" lengthAdjust="spacingAndGlyphs">0</tspan><tspan x="49.15" y="237.00" textLength="4.89" lengthAdjust="spacingAndGlyphs">.</tspan><tspan x="55.53" y="237.00" textLength="12.43" lengthAdjust="spacingAndGlyphs">5</tspan></text>
<text font-size="20.5"><tspan x="55.17" y="477.50" textLength="11.94" lengthAdjust="spacingAndGlyphs">4</tspan><tspan x="69.14" y="477.50" textLength="12.99" lengthAdjust="spacingAndGlyphs">0</tspan><tspan x="82.67" y="477.50" textLength="14.44" lengthAdjust="spacingAndGlyphs">0</tspan></text>
<text font-size="20.5"><tspan x="275.44" y="477.60" textLength="11.99" lengthAdjust="spacingAndGlyphs">5</tspan><tspan x="290.11" y="477.60" textLength="13.16" lengthAdjust="spacingAndGlyphs">0</tspan><tspan x="303.96" y="477.60" textLength="13.25" lengthAdjust="spacingAndGlyphs">0</tspan></text>
<text font-size="20.5"><tspan x="494.42" y="477.60" textLength="12.96" lengthAdjust="spacingAndGlyphs">6</tspan><tspan x="508.20" y="477.60" textLength="12.17" lengthAdjust="spacingAndGlyphs">0</tspan><tspan x="522.01" y="477.60" textLength="13.02" lengthAdjust="spacingAndGlyphs">0</tspan></text>
<text font-size="20.5"><tspan x="706.57" y="477.60" textLength="11.91" lengthAdjust="spacingAndGlyphs">7</tspan><tspan x="720.66" y="477.60" textLength="12.20" lengthAdjust="spacingAndGlyphs">0</tspan><tspan x="734.13" y="477.60" textLength="13.39" lengthAdjust="spacingAndGlyphs">0</tspan></text>
<text font-size="20.5"><tspan x="407.72" y="197.80" textLength="10.20" lengthAdjust="spacingAndGlyphs">−</tspan><tspan x="420.44" y="198.70" textLength="12.65" lengthAdjust="spacingAndGlyphs">6</tspan><tspan x="434.66" y="198.70" textLength="12.20" lengthAdjust="spacingAndGlyphs">0</tspan><tspan x="446.15" y="198.70" textLength="11.71" lengthAdjust="spacingAndGlyphs">°</tspan><tspan x="459.05" y="198.70" textLength="12.78" lengthAdjust="spacingAndGlyphs">C</tspan></text>
<text font-size="20.5"><tspan x="432.23" y="280.70" textLength="13.21" lengthAdjust="spacingAndGlyphs">0</tspan></text>
<text font-size="20.5"><tspan x="401.91" y="345.90" textLength="14.39" lengthAdjust="spacingAndGlyphs">+</tspan><tspan x="419.12" y="345.90" textLength="10.98" lengthAdjust="spacingAndGlyphs">2</tspan><tspan x="431.80" y="345.90" textLength="13.89" lengthAdjust="spacingAndGlyphs">0</tspan></text>
<text font-size="20.5"><tspan x="399.78" y="395.40" textLength="13.83" lengthAdjust="spacingAndGlyphs">+</tspan><tspan x="419.62" y="395.40" textLength="9.95" lengthAdjust="spacingAndGlyphs">4</tspan><tspan x="433.91" y="395.40" textLength="14.34" lengthAdjust="spacingAndGlyphs">0</tspan></text>
<text font-size="20.5"><tspan x="398.91" y="424.80" textLength="14.13" lengthAdjust="spacingAndGlyphs">+</tspan><tspan x="418.27" y="424.80" textLength="11.94" lengthAdjust="spacingAndGlyphs">6</tspan><tspan x="432.16" y="424.80" textLength="14.31" lengthAdjust="spacingAndGlyphs">0</tspan></text>
<text font-size="20.5"><tspan x="295.60" y="42.30" textLength="39.91" lengthAdjust="spacing">CdS</tspan><tspan x="338.13" y="42.30" textLength="11.35" lengthAdjust="spacingAndGlyphs">−</tspan><tspan x="352.43" y="42.30" textLength="25.92" lengthAdjust="spacing">Cd</tspan><tspan x="378.33" y="32.70" font-size="10" textLength="14.81" lengthAdjust="spacingAndGlyphs">2+</tspan> <tspan x="398.15" y="42.30" textLength="45.85" lengthAdjust="spacing">rich,</tspan> <tspan x="481.43" y="42.20" textLength="12.88" lengthAdjust="spacingAndGlyphs">8</tspan><tspan x="495.10" y="42.20" textLength="13.86" lengthAdjust="spacingAndGlyphs">0</tspan><tspan x="509.31" y="42.20" textLength="16.59" lengthAdjust="spacingAndGlyphs">%</tspan> <tspan x="534.32" y="41.50" textLength="94.08" lengthAdjust="spacing">Propylene</tspan> <tspan x="640.92" y="41.90" textLength="57.80" lengthAdjust="spacing">Glycol</tspan></text>
<text font-size="20.5"><tspan x="535.82" y="74.60" textLength="41.52" lengthAdjust="spacing">Exc.</tspan> <tspan x="588.30" y="74.40" textLength="11.94" lengthAdjust="spacingAndGlyphs">4</tspan><tspan x="601.42" y="74.40" textLength="12.73" lengthAdjust="spacingAndGlyphs">0</tspan><tspan x="615.16" y="74.40" textLength="13.12" lengthAdjust="spacingAndGlyphs">0</tspan> <tspan x="633.90" y="74.40" textLength="30.04" lengthAdjust="spacing">nm</tspan></text>
<text font-size="20.5"><tspan x="288.71" y="509.10" textLength="141.50" lengthAdjust="spacing">WAVELENGTH</tspan> <tspan x="444.49" y="509.10" textLength="54.42" lengthAdjust="spacing">( nm)</tspan></text>
<text transform="translate(17.9,388.3) rotate(-90)" font-size="20.5"><tspan x="0" y="0" textLength="161.3" lengthAdjust="spacingAndGlyphs">FLUORESCENCE</tspan> <tspan x="184.3" y="0" textLength="93.9" lengthAdjust="spacingAndGlyphs">INTENSITY</tspan></text>
</g>
</svg>
</body></html>
